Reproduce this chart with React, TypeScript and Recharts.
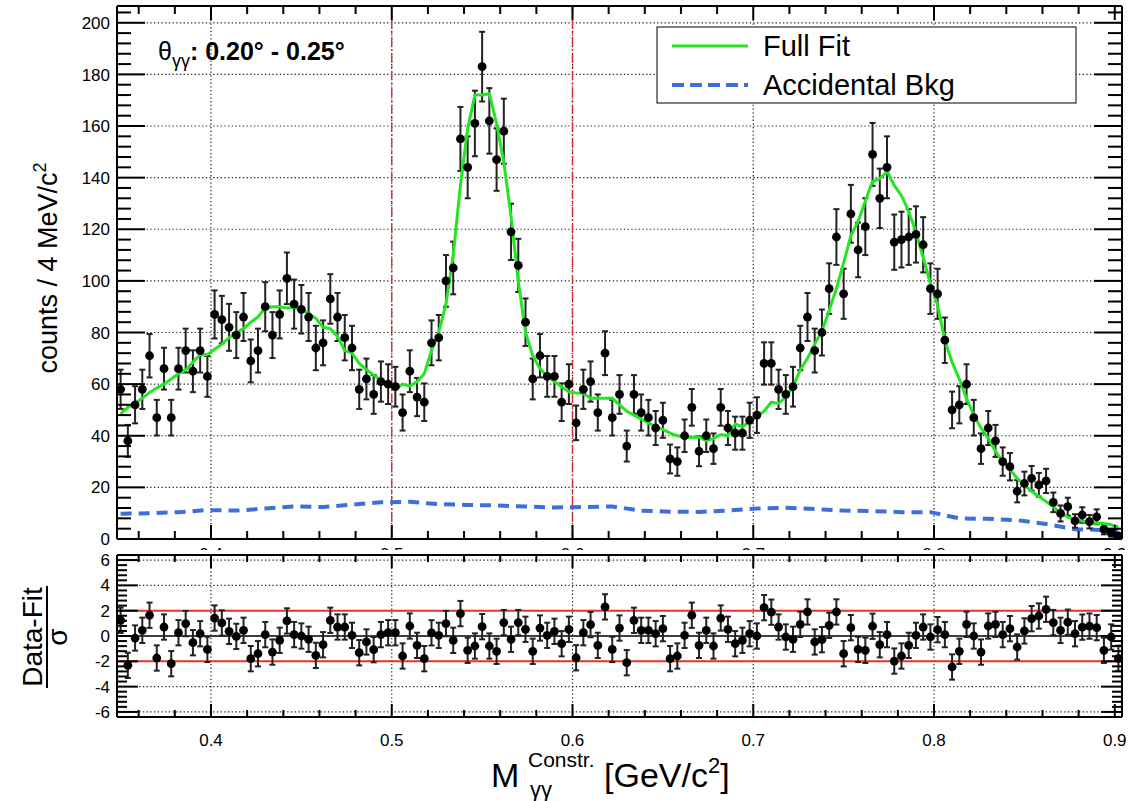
import React from "react";
import {
  ComposedChart,
  ErrorBar,
  Line,
  ReferenceLine,
  Scatter,
  XAxis,
  YAxis,
} from "recharts";

// 4 MeV bins, first bin centred at 0.350 GeV
const BIN_FIRST = 0.35;
const BIN_WIDTH = 0.004;

const counts = [
  58, 38, 52, 58, 71, 47, 66, 47, 66, 73, 65, 73, 63, 87, 85, 82, 79, 86, 69, 73,
  90, 79, 87, 101, 91, 89, 86, 74, 76, 93, 86, 78, 74, 58, 62, 56, 61, 60, 59, 49,
  65, 55, 53, 76, 78, 100, 105, 155, 144, 161, 183, 162, 147, 158, 119, 106, 84, 62, 71, 63,
  63, 53, 60, 45, 58, 61, 49, 72, 47, 56, 36, 56, 49, 47, 43, 46, 31, 30, 40, 51,
  34, 40, 35, 51, 43, 41, 41, 46, 48, 68, 68, 58, 56, 59, 74, 86, 73, 80, 97, 117,
  95, 126, 112, 121, 149, 132, 144, 115, 116, 117, 118, 114, 97, 95, 77, 50, 52, 60, 47, 35,
  43, 38, 30, 28, 18.5, 21.5, 23.5, 21, 22.5, 14.2, 9.9, 12.5, 7, 9.3, 6.7, 8.6, 3.7, 2.4, 1.2,
];

const countErrors = [
  7.6, 6.2, 7.2, 7.6, 8.4, 6.9, 8.1, 6.9, 8.1, 8.5, 8.1, 8.5, 7.9, 9.3, 9.2, 9.1, 8.9, 9.3, 8.3, 8.5,
  9.5, 8.9, 9.3, 10, 9.5, 9.4, 9.3, 8.6, 8.7, 9.6, 9.3, 8.8, 8.6, 7.6, 7.9, 7.5, 7.8, 7.7, 7.7, 7,
  8.1, 7.4, 7.3, 8.7, 8.8, 10, 10.2, 12.4, 12, 12.7, 13.5, 12.7, 12.1, 12.6, 10.9, 10.3, 9.2, 7.9, 8.4, 7.9,
  7.9, 7.3, 7.7, 6.7, 7.6, 7.8, 7, 8.5, 6.9, 7.5, 6, 7.5, 7, 6.9, 6.6, 6.8, 5.6, 5.5, 6.3, 7.1,
  5.8, 6.3, 5.9, 7.1, 6.6, 6.4, 6.4, 6.8, 6.9, 8.2, 8.2, 7.6, 7.5, 7.7, 8.6, 9.3, 8.5, 8.9, 9.8, 10.8,
  9.7, 11.2, 10.6, 11, 12.2, 11.5, 12, 10.7, 10.8, 10.8, 10.9, 10.7, 9.8, 9.7, 8.8, 7.1, 7.2, 7.7, 6.9, 5.9,
  6.6, 6.2, 5.5, 5.3, 4.3, 4.6, 4.8, 4.6, 4.7, 3.8, 3.1, 3.5, 2.6, 3, 2.6, 2.9, 1.9, 1.5, 1.1,
];

const fitValues = [
  48.5, 51, 52.5, 54.5, 56.8, 58.5, 60, 62, 64, 65.5, 68.5, 71.5, 71.4, 73.5, 75.5, 78, 80, 81.5, 84, 86,
  89.5, 90, 90, 89.5, 89.8, 89, 87.5, 85.5, 82, 81.5, 78.5, 73, 72, 68, 65.6, 63.5, 61.5, 59.5, 58, 60,
  59.2, 61, 64, 73, 80, 91, 110, 137, 159, 172, 172, 172.5, 161, 146, 125, 100, 80, 71, 66, 63,
  61, 59, 57, 56.6, 56.5, 54.5, 54.5, 54.5, 54.5, 52, 49.5, 48, 46.5, 45, 43.5, 42.5, 41, 40, 39.5, 39.3,
  39.5, 38, 39, 40.5, 40, 44.5, 43.5, 45.5, 47.5, 49.5, 53, 52.5, 55, 59, 65.5, 70, 75.5, 80.5, 88.5, 97,
  107, 117.5, 123, 131, 138.5, 139.6, 142.5, 137, 133, 127, 119, 109, 99, 90.5, 77, 68.5, 62, 54.5, 48, 43,
  39, 34, 30, 27, 23.5, 21, 18.5, 16.5, 14.5, 12.5, 10, 8.5, 7.5, 7, 6, 6.2, 6, 5.5, 4.8,
];

const pulls = [
  1.24, -2.32, -0.16, 0.45, 1.64, -1.74, 0.71, -2.19, 0.26, 0.98, -0.53, 0.18, -1.06, 1.42, 1.03, 0.37, -0.03, 0.45, -1.79, -1.4,
  0.11, -1.27, -0.34, 1.19, 0.11, 0, -0.26, -1.53, -0.69, 1.24, 0.71, 0.71, 0.05, -1.32, -0.47, -1.08, 0.11, 0.26, 0.26, -1.58,
  0.79, -0.74, -1.79, 0.25, 0.05, 0.98, -0.34, 1.77, -1.13, -0.79, 0.74, -0.79, -1.21, 1.06, -0.26, 1.06, 0.53, -1.21, 0.63, 0.05,
  0.37, -0.61, 0.53, -1.72, 0.26, 0.9, -0.74, 2.3, -1.06, 0.63, -2.11, 1.24, 0.45, 0.45, 0.18, 0.58, -1.79, -1.58, 0.05, 1.64,
  -0.74, 0.45, -0.79, 1.42, 0.53, -0.61, -0.34, 0.18, 0, 2.24, 1.88, 0.71, -0.08, -0.26, 0.92, 1.9, -0.47, -0.29, 0.84, 1.9,
  -1.4, 0.66, -1.06, -1.13, 0.77, -0.69, 0.11, -1.98, -1.58, -0.74, 0.05, 0.71, -0.08, 0.5, 0.11, -2.45, -1.21, 0.92, 0, -1.27,
  0.79, 0.92, 0.11, 0.58, -0.87, 0.4, 1.37, 1.58, 2.11, 1.06, 0.45, 1.09, 0.18, 0.7, 0.78, 0.66, -1.13, -0.08, -1.76,
];

// accidental background, read every 4th bin
const bkgMass = [
  0.35, 0.366, 0.382, 0.398, 0.414, 0.43, 0.446, 0.462, 0.478, 0.494, 0.51, 0.526, 0.542, 0.558, 0.574, 0.59, 0.606, 0.622,
  0.638, 0.654, 0.67, 0.686, 0.702, 0.718, 0.734, 0.75, 0.766, 0.782, 0.798, 0.814, 0.83, 0.846, 0.862, 0.878, 0.894, 0.902,
];
const bkgValues = [
  9.8, 10, 10.4, 11.2, 11, 11.8, 12.6, 12.4, 13.3, 14.2, 14.4, 13.5, 13.2, 13, 12.6, 12.2, 12.4, 12.6,
  11, 10.6, 10.5, 11, 11.8, 12.1, 11.6, 11, 10.8, 10.4, 10.4, 8, 7.8, 7.3, 5.8, 3.8, 3.5, 3,
];

const xMajor = [0.4, 0.5, 0.6, 0.7, 0.8];
const xTicks = [
  0.36, 0.38, 0.4, 0.42, 0.44, 0.46, 0.48, 0.5, 0.52, 0.54, 0.56, 0.58, 0.6, 0.62,
  0.64, 0.66, 0.68, 0.7, 0.72, 0.74, 0.76, 0.78, 0.8, 0.82, 0.84, 0.86, 0.88, 0.9,
];
const xLabels = [0.4, 0.5, 0.6, 0.7, 0.8, 0.9];
const countLabels = [0, 20, 40, 60, 80, 100, 120, 140, 160, 180, 200];
const countGrid = [20, 40, 60, 80, 100, 120, 140, 160, 180, 200];
const countTicks = Array.from({ length: 52 }, (_, k) => k * 4);
const pullLabels = [-6, -4, -2, 0, 2, 4, 6];
const pullGrid = [-6, -4, 4, 6];
const pullTicks = Array.from({ length: 31 }, (_, k) => Number((-6 + k * 0.4).toFixed(1)));
const dashedMass = [0.5, 0.6];

const rows = counts.map((c, i) => ({
  x: Number((BIN_FIRST + i * BIN_WIDTH).toFixed(3)),
  count: c,
  err: countErrors[i],
  fit: fitValues[i],
}));
const pullRows = pulls.map((p, i) => ({
  x: Number((BIN_FIRST + i * BIN_WIDTH).toFixed(3)),
  pull: p,
  err: 1,
}));
const bkgRows = bkgMass.map((m, i) => ({ x: m, bkg: bkgValues[i] }));

const FONT = "'Liberation Sans', Arial, Helvetica, sans-serif";
const X_MIN = 0.348;
const X_MAX = 0.904;
const TOP_MAX = 206.5;
const PULL_MAX = 6.4;

const isTenth = (v: number) => Math.abs(v * 10 - Math.round(v * 10)) < 1e-6;
const isTwenty = (v: number) => v % 20 === 0;
const isEven = (v: number) => Math.abs(v / 2 - Math.round(v / 2)) < 1e-6;

// ROOT style ticks on the four frame sides: anchor points placed on the frame,
// each drawn as a short stroke pointing into the plot
function frameTickRows(yMin: number, yMax: number, yTicks: number[], yMajor: (v: number) => boolean,
  yLen: number[], xLen: number[]) {
  const out: any[] = [];
  xTicks.forEach((v) => {
    const len = isTenth(v) ? xLen[0] : xLen[1];
    out.push({ x: v, t: yMin, dx: 0, dy: -len });
    out.push({ x: v, t: yMax, dx: 0, dy: len });
  });
  yTicks.forEach((v) => {
    const len = yMajor(v) ? yLen[0] : yLen[1];
    out.push({ x: X_MIN, t: v, dx: len, dy: 0 });
    out.push({ x: X_MAX, t: v, dx: -len, dy: 0 });
  });
  return out;
}
const mainTickRows = frameTickRows(0, TOP_MAX, countTicks, isTwenty, [28, 14], [14, 8]);
const pullTickRows = frameTickRows(-PULL_MAX, PULL_MAX, pullTicks, isEven, [21, 10], [13, 7]);

const TickMark = (p: any) => (
  <line x1={p.cx} y1={p.cy} x2={p.cx + p.payload.dx} y2={p.cy + p.payload.dy} stroke="#000" strokeWidth={2} />
);

function tickLabel(side: string, fmt: (v: number) => string) {
  return (props: any) => {
    const { x, y, payload } = props;
    return (
      <text
        x={x}
        y={y}
        fontSize={17}
        fontFamily={FONT}
        fill="#000"
        textAnchor={side === "left" ? "end" : "middle"}
        dy={side === "left" ? "0.36em" : "0.75em"}
      >
        {fmt(payload.value)}
      </text>
    );
  };
}

const frame = { stroke: "#000", strokeWidth: 2 };
const gridStyle = { stroke: "#222", strokeDasharray: "1.3 2.4", strokeWidth: 1.2 };

const Dot = (p: any) => <circle cx={p.cx} cy={p.cy} r={4.4} fill="#000" />;

function MainPanel() {
  return (
    <ComposedChart width={1130} height={560} data={rows} margin={{ top: 6, right: 8, bottom: 0, left: 57 }}>
      <XAxis dataKey="x" type="number" domain={[X_MIN, X_MAX]} allowDataOverflow ticks={xLabels} interval={0}
        height={21} tickSize={0} tickMargin={8} axisLine={frame} tickLine={false}
        tick={tickLabel("bottom", (v) => v.toFixed(1))} />
      <YAxis type="number" domain={[0, TOP_MAX]} allowDataOverflow ticks={countLabels} interval={0} width={60}
        tickSize={0} tickMargin={7} axisLine={frame} tickLine={false}
        tick={tickLabel("left", (v) => String(v))} />
      {countGrid.map((v) => (
        <ReferenceLine key={"h" + v} y={v} {...gridStyle} />
      ))}
      {xMajor.map((v) => (
        <ReferenceLine key={"v" + v} x={v} {...gridStyle} />
      ))}
      {dashedMass.map((v) => (
        <ReferenceLine key={"r" + v} x={v} stroke="#e02a2a" strokeWidth={1.4} strokeDasharray="9 3 2 3" />
      ))}
      <ReferenceLine y={TOP_MAX} {...frame} />
      <ReferenceLine x={X_MAX} {...frame} />
      <Line data={bkgRows} dataKey="bkg" type="linear" stroke="#3d6fd8" strokeWidth={4}
        strokeDasharray="11 7" dot={false} isAnimationActive={false} />
      <Scatter data={rows} dataKey="count" shape={Dot} isAnimationActive={false}>
        <ErrorBar dataKey="err" direction="y" width={3} stroke="#222" strokeWidth={2} />
      </Scatter>
      <Line dataKey="fit" type="linear" stroke="#22e622" strokeWidth={3} dot={false} isAnimationActive={false} />
      <Scatter data={mainTickRows} dataKey="t" shape={TickMark} isAnimationActive={false} />
    </ComposedChart>
  );
}

function PullPanel() {
  return (
    <ComposedChart width={1130} height={251} data={pullRows} margin={{ top: 5, right: 8, bottom: 0, left: 57 }}>
      <XAxis dataKey="x" type="number" domain={[X_MIN, X_MAX]} allowDataOverflow ticks={xLabels} interval={0}
        height={84} tickSize={0} tickMargin={16} axisLine={frame} tickLine={false}
        tick={tickLabel("bottom", (v) => v.toFixed(1))} />
      <YAxis type="number" domain={[-PULL_MAX, PULL_MAX]} allowDataOverflow ticks={pullLabels} interval={0} width={60}
        tickSize={0} tickMargin={7} axisLine={frame} tickLine={false}
        tick={tickLabel("left", (v) => String(Math.round(v)))} />
      {pullGrid.map((v) => (
        <ReferenceLine key={"h" + v} y={v} {...gridStyle} />
      ))}
      {xMajor.map((v) => (
        <ReferenceLine key={"v" + v} x={v} {...gridStyle} />
      ))}
      <ReferenceLine y={2} stroke="#e8302c" strokeWidth={2} />
      <ReferenceLine y={-2} stroke="#e8302c" strokeWidth={2} />
      <ReferenceLine y={0} stroke="#000" strokeWidth={1.5} />
      <ReferenceLine y={PULL_MAX} {...frame} />
      <ReferenceLine x={X_MAX} {...frame} />
      <Scatter data={pullRows} dataKey="pull" shape={Dot} isAnimationActive={false}>
        <ErrorBar dataKey="err" direction="y" width={3} stroke="#222" strokeWidth={2} />
      </Scatter>
      <Scatter data={pullTickRows} dataKey="t" shape={TickMark} isAnimationActive={false} />
    </ComposedChart>
  );
}

function Labels() {
  return (
    <svg width={1130} height={801} style={{ position: "absolute", left: 0, top: 0, pointerEvents: "none" }}
      fontFamily={FONT} fill="#000">
      <text x={158} y={60} fontSize={25}>
        θ<tspan fontSize={18} dy={7}>γγ</tspan>
        <tspan dy={-7} fontWeight="bold">: 0.20° - 0.25°</tspan>
      </text>

      <rect x={657} y={27} width={419} height={76} fill="#fff" stroke="#000" strokeWidth={1} />
      <line x1={672} y1={46} x2={748} y2={46} stroke="#22e622" strokeWidth={3} />
      <text x={763} y={56} fontSize={29}>Full Fit</text>
      <line x1={672} y1={85} x2={748} y2={85} stroke="#3d6fd8" strokeWidth={4} strokeDasharray="12 6" />
      <text x={763} y={95} fontSize={29}>Accidental Bkg</text>

      <text transform="translate(57,268) rotate(-90)" textAnchor="middle" fontSize={27}>
        counts / 4 MeV/c<tspan fontSize={18} dy={-11}>2</tspan>
      </text>

      <text transform="translate(42,637) rotate(-90)" textAnchor="middle" fontSize={28}>Data-Fit</text>
      <line x1={47} y1={586} x2={47} y2={688} stroke="#000" strokeWidth={2} />
      <text transform="translate(67,637) rotate(-90)" textAnchor="middle" fontSize={28}>σ</text>

      <text x={491} y={787} fontSize={34}>M</text>
      <text x={528} y={767} fontSize={21}>Constr.</text>
      <text x={530} y={797} fontSize={22}>γγ</text>
      <text x={604} y={787} fontSize={34}>
        [GeV/c<tspan fontSize={22} dy={-14}>2</tspan>
        <tspan dy={14}>]</tspan>
      </text>
    </svg>
  );
}

export default function App() {
  return (
    <div style={{ position: "absolute", left: 0, top: 0, width: 1130, height: 801, background: "#fff", fontFamily: FONT }}>
      <div style={{ position: "absolute", left: 0, top: 0 }}>
        <MainPanel />
      </div>
      <div style={{ position: "absolute", left: 0, top: 550, background: "#fff" }}>
        <PullPanel />
      </div>
      <Labels />
    </div>
  );
}
